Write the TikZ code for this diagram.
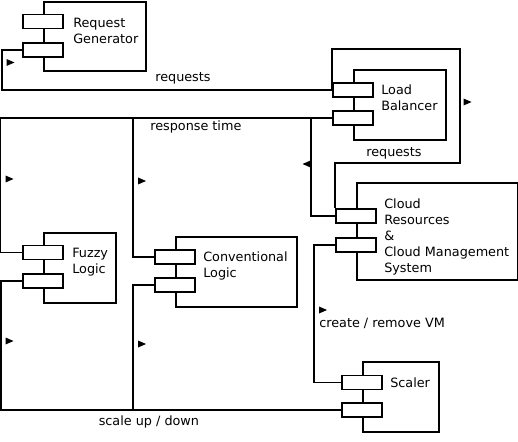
\documentclass[tikz,border=0pt]{standalone}
\usepackage{fontspec}
\setmainfont{DejaVu Sans}
\begin{document}
\begin{tikzpicture}[x=0.75pt,y=-0.75pt,
  box/.style={draw, line width=1.4pt, fill=white, anchor=north west, inner sep=0},
  port/.style={draw, line width=1.4pt, fill=white, minimum width=30pt, minimum height=10.5pt, inner sep=0},
  wire/.style={line width=1.4pt},
  lbl/.style={font=\fontsize{9.6}{12}\selectfont, anchor=base west, inner sep=0, align=left},
  tri/.pic={\fill (-4,-3.5) -- (4,0) -- (-4,3.5) -- cycle;},
  trileft/.pic={\fill (4,-3.5) -- (-4,0) -- (4,3.5) -- cycle;}
]
\useasboundingbox (0,0) rectangle (518,442);
% component boxes
\node[box, minimum width=76.5pt, minimum height=51.75pt] (rg) at (43,1) {};
\node[box, minimum width=69pt, minimum height=52.5pt] (lb) at (353,69) {};
\node[box, minimum width=54pt, minimum height=52.5pt] (fl) at (43,232) {};
\node[box, minimum width=90.75pt, minimum height=52.5pt] (cl) at (175,236) {};
\node[box, minimum width=120.75pt, minimum height=72.75pt] (cr) at (356,182) {};
\node[box, minimum width=57pt, minimum height=52.5pt] (sc) at (362,361) {};
% ports
\node[port] (rgp1) at (43,21.5) {};
\node[port] (rgp2) at (43,50) {};
\node[port] (lbp1) at (353,90) {};
\node[port] (lbp2) at (353,118) {};
\node[port] (flp1) at (43,252.5) {};
\node[port] (flp2) at (43,281) {};
\node[port] (clp1) at (175,257) {};
\node[port] (clp2) at (175,285) {};
\node[port] (crp1) at (356,216) {};
\node[port] (crp2) at (356,245) {};
\node[port] (scp1) at (362,382.5) {};
\node[port] (scp2) at (362,410) {};
% labels inside components (base = last line)
\node[lbl] (rgt) at (73,43.5) {Request\\Generator};
\node[lbl] (lbt) at (381,110.5) {Load\\Balancer};
\node[lbl] (flt) at (72,273.5) {Fuzzy\\Logic};
\node[lbl] (clt) at (203,277.5) {Conventional\\Logic};
\node[lbl] (crt) at (384,272.5) {Cloud\\Resources\\\&\\Cloud Management\\System};
\node[lbl] (sct) at (390,387) {Scaler};
% connectors
\draw[wire] (rgp2.west) -- ++(-20,0) |- (lbp1.west);
\draw[wire] (lbp1.west) |- (460,49) -- (460,163) -| (crp1.north west);
\draw[wire] (lbp2.west) -- ++(-332,0) |- (flp1.west);
\draw[wire] (lbp2.west) -- ++(-199,0) |- (clp1.west);
\draw[wire] (lbp2.west) -- ++(-21,0) |- (crp1.west);
\draw[wire] (flp2.west) -- ++(-21,0) |- (scp2.west);
\draw[wire] (clp2.west) -- ++(-21,0) |- (scp2.west);
\draw[wire] (crp2.west) -- ++(-21,0) |- (scp1.west);
% connector labels
\node[lbl] (l1) at (155,81.5) {requests};
\node[lbl] (l2) at (150,130.5) {response time};
\node[lbl] (l3) at (366,156.5) {requests};
\node[lbl] (l4) at (319,327.5) {create / remove VM};
\node[lbl] (l5) at (98.5,425) {scale up / down};
% direction markers
\pic at (10.5,62.5) {tri};
\pic at (9.5,179) {tri};
\pic at (142,181) {tri};
\pic at (467.5,102) {tri};
\pic at (306.5,164) {trileft};
\pic at (9.5,341) {tri};
\pic at (142,344) {tri};
\pic at (323,310) {tri};
\end{tikzpicture}
\end{document}
